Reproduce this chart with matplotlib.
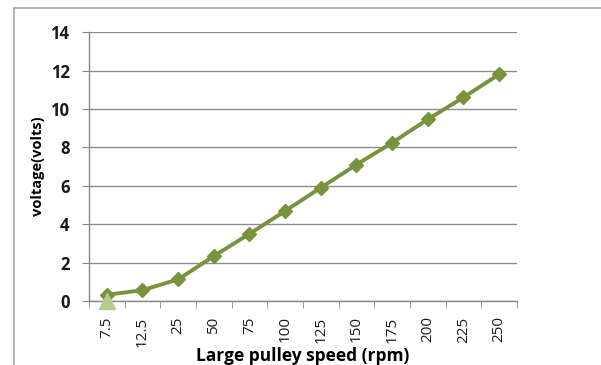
import matplotlib.pyplot as plt
from matplotlib.lines import Line2D

speeds = ['7.5', '12.5', '25', '50', '75', '100', '125', '150', '175', '200', '225', '250']
voltage = [0.33, 0.57, 1.13, 2.34, 3.5, 4.69, 5.9, 7.1, 8.24, 9.46, 10.6, 11.8]
second_series = [0.0]

plt.rcParams['font.family'] = ['Open Sans', 'DejaVu Sans']

fig = plt.figure(figsize=(6.01, 3.65), dpi=100)
ax = fig.add_axes([0.148, 0.175, 0.712, 0.737])

# outer chart frame (top and left edges only visible)
fig.add_artist(Line2D([14 / 601, 1.0], [1 - 8 / 365, 1 - 8 / 365], color='#a6a6a6', lw=1.2, transform=fig.transFigure))
fig.add_artist(Line2D([14 / 601, 14 / 601], [0.0, 1 - 8 / 365], color='#a6a6a6', lw=1.2, transform=fig.transFigure))

x = list(range(len(speeds)))
ax.plot(x, voltage, color='#77933c', lw=2.8, marker='D', ms=7, mfc='#77933c', mec='#77933c', zorder=3)
ax.plot(x[:len(second_series)], second_series, ls='none', marker='^', ms=11, color='#b3cc8a', zorder=4, clip_on=False)

ax.set_ylim(0, 14)
ax.set_yticks(range(0, 15, 2))
ax.set_xlim(-0.5, len(speeds) - 0.5)
ax.set_xticks(x)
ax.set_xticklabels(speeds, rotation=90, fontsize=11, color='#1a1a1a')
ax.set_xticks([i - 0.5 for i in range(len(speeds) + 1)], minor=True)
ax.tick_params(axis='x', which='major', length=0, pad=11)
ax.tick_params(axis='x', which='minor', length=5, color='#888888', direction='out')
ax.tick_params(axis='y', length=5, color='#888888', labelsize=12, labelcolor='#1a1a1a', pad=9)
for lab in ax.get_yticklabels():
    lab.set_fontweight('bold')

ax.grid(axis='y', color='#8c8c8c', lw=1)
ax.set_axisbelow(True)
for s in ['top', 'right']:
    ax.spines[s].set_visible(False)
for s in ['left', 'bottom']:
    ax.spines[s].set_color('#888888')
    ax.spines[s].set_linewidth(1)

ax.set_ylabel('voltage(volts)', fontsize=10.5, fontweight='bold', labelpad=4)
ax.set_xlabel('Large pulley speed (rpm)', fontsize=12.5, fontweight='bold', labelpad=0)

fig.savefig('out.png', dpi=100)
